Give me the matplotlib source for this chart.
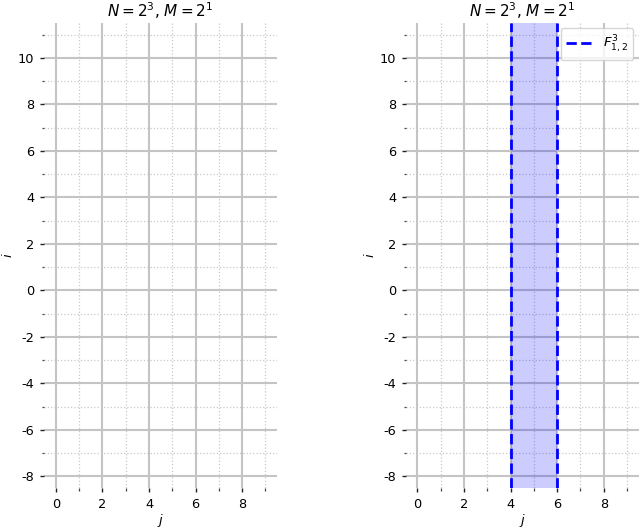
import numpy as np
import matplotlib
matplotlib.use('Agg')
import matplotlib.pyplot as plt

plt.rcParams['axes.unicode_minus'] = False

# data
n_exp = 3
m_exp = 1
x_limits = [-0.5, 9.5]
y_limits = [-8.5, 11.5]
x_major = [0, 2, 4, 6, 8]
x_minor = [1, 3, 5, 7, 9]
y_major = [-8, -6, -4, -2, 0, 2, 4, 6, 8, 10]
y_minor = [-7, -5, -3, -1, 1, 3, 5, 7, 9, 11]
band_start = 4
band_end = 6
band_label = r'$F^{3}_{1,2}$'

title = r'$N = 2^{%d}$, $M = 2^{%d}$' % (n_exp, m_exp)


def setup_axes(ax):
    ax.set_xlim(x_limits)
    ax.set_ylim(y_limits)
    ax.set_xticks(x_major)
    ax.set_xticks(x_minor, minor=True)
    ax.set_yticks(y_major)
    ax.set_yticks(y_minor, minor=True)
    ax.grid(which='major', color='#c4c4c4', linewidth=1.5, linestyle='-')
    ax.grid(which='minor', color='#c8c8c8', linewidth=0.9, linestyle=':')
    ax.set_axisbelow(True)
    for s in ax.spines.values():
        s.set_visible(False)
    ax.tick_params(which='major', length=3, width=1.0, color='#222222', labelsize=9.3, pad=4)
    ax.tick_params(which='minor', length=1.8, width=0.9, color='#444444')
    ax.set_title(title, fontsize=11, pad=4)
    ax.set_xlabel('$j$', fontsize=9.5, labelpad=1)
    ax.set_ylabel('$i$', fontsize=9.5)
    # ylabel sits a fixed distance left of the axes
    ax.yaxis.set_label_coords(-0.125, 0.5)


fig = plt.figure(figsize=(6.4, 5.29), dpi=100)
ax1 = fig.add_axes([0.069, 0.0775, 0.364, 0.879])
ax2 = fig.add_axes([0.634, 0.0775, 0.364, 0.879])

setup_axes(ax1)
setup_axes(ax2)

ax2.axvspan(band_start, band_end, color='blue', alpha=0.2, linewidth=0)
ax2.axvline(band_start, color='blue', linestyle='--', linewidth=2, label=band_label)
ax2.axvline(band_end, color='blue', linestyle='--', linewidth=2)
ax2.legend(loc='upper right', fontsize=9.5, borderaxespad=0.4)

fig.savefig('out.png', dpi=100)
